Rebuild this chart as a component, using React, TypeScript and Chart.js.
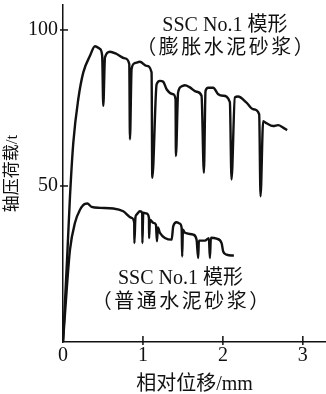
import React, { useEffect, useRef } from "react";
import { Chart, registerables } from "chart.js";

Chart.register(...registerables);

// Upper curve: SSC No.1 (expansive cement mortar)
const expDisp = [
  0, 0.05, 0.0875, 0.129, 0.191, 0.254, 0.3375, 0.4, 0.4625, 0.49, 0.504, 0.525,
  0.5875, 0.671, 0.775, 0.829, 0.8375, 0.858, 0.9, 0.9625, 1.046, 1.108, 1.117,
  1.171, 1.2125, 1.254, 1.296, 1.379, 1.408, 1.4125, 1.44, 1.483, 1.525, 1.5875,
  1.671, 1.733, 1.7625, 1.783, 1.817, 1.879, 1.942, 2.004, 2.0875, 2.108, 2.15,
  2.19, 2.296, 2.379, 2.454, 2.471, 2.504, 2.546, 2.629, 2.692, 2.754, 2.804,
];
const expLoad = [
  0, 26, 46.7, 63.9, 77.8, 86.4, 91.7, 94.8, 93.9, 91.7, 75.7, 91.2,
  93.0, 92.3, 90.9, 89.1, 65.0, 87.5, 89.4, 89.8, 88.5, 86.4, 52.6,
  82.6, 83.7, 83.4, 81.0, 79.4, 77.8, 59.6, 80.0, 81.9, 82.3, 81.6,
  80.2, 78.9, 54.2, 80.5, 81.5, 81.5, 79.4, 78.9, 76.9, 52.1, 78.4,
  78.7, 76.7, 74.6, 73.0, 46.7, 70.8, 70.1, 69.2, 69.5, 68.7, 67.9,
];

// Lower curve: SSC No.1 (ordinary cement mortar)
const ordDisp = [
  0, 0.046, 0.0875, 0.15, 0.2125, 0.275, 0.304, 0.358, 0.4625, 0.629, 0.754,
  0.858, 0.891, 0.893, 0.906, 0.92, 0.9625, 0.991, 0.993, 1.004, 1.046, 1.075,
  1.077, 1.0875, 1.129, 1.1625, 1.175, 1.1875, 1.2125, 1.359, 1.379, 1.421,
  1.4625, 1.484, 1.491, 1.5, 1.525, 1.629, 1.671, 1.691, 1.7, 1.775, 1.825,
  1.8375, 1.85, 1.921, 1.984, 2.004, 2.046, 2.109, 2.1375,
];
const ordLoad = [
  0, 16.7, 29.6, 38.2, 42.4, 44.3, 44.4, 43.3, 43.0, 42.8, 41.9,
  39.8, 38.2, 31.7, 39.9, 40.8, 41.9, 41.4, 31.7, 41.4, 41.2, 39.8,
  33.3, 39.2, 38.2, 37.6, 32.3, 36.7, 35.0, 32.8, 37.1, 38.4,
  37.9, 36.6, 27.4, 36.0, 35.0, 34.4, 32.8, 26.9, 32.5, 32.5, 33.3,
  26.9, 33.4, 33.1, 31.7, 29.0, 28.0, 27.7, 27.7,
];

const xTickValues = [0, 1, 2, 3];
const yTickValues = [50, 100];
const xTitle = "相对位移/mm";
const yTitle = "轴压荷载/t";
const expLabel = ["SSC No.1 模形", "（膨胀水泥砂浆）"];
const ordLabel = ["SSC No.1 模形", "（普通水泥砂浆）"];

const FONT = '"Liberation Serif", "Noto Sans CJK SC", serif';
const INK = "#111";

const toPts = (xs: number[], ys: number[]) => xs.map((x, i) => ({ x, y: ys[i] }));

const decorPlugin = {
  id: "decor",
  afterDraw(chart: any) {
    const { ctx, scales } = chart;
    const xs = scales.x;
    const ys = scales.y;
    ctx.save();
    ctx.strokeStyle = INK;
    ctx.lineWidth = 1.5;
    const x0 = xs.left;
    const yb = ys.bottom;
    xTickValues.forEach((v) => {
      if (v === 0) return;
      const px = xs.getPixelForValue(v);
      ctx.beginPath();
      ctx.moveTo(px, yb - 6);
      ctx.lineTo(px, yb + 3);
      ctx.stroke();
    });
    yTickValues.forEach((v) => {
      const py = ys.getPixelForValue(v);
      ctx.beginPath();
      ctx.moveTo(x0 - 3, py);
      ctx.lineTo(x0 + 5, py);
      ctx.stroke();
    });
    ctx.fillStyle = INK;
    ctx.textAlign = "center";
    ctx.textBaseline = "middle";
    ctx.font = `20px ${FONT}`;
    const draw = (lines: string[], xv: number, y1: number, y2: number) => {
      const px = xs.getPixelForValue(xv);
      (ctx as any).letterSpacing = "0px";
      ctx.fillText(lines[0], px, ys.getPixelForValue(y1));
      (ctx as any).letterSpacing = "2.5px";
      ctx.fillText(lines[1], px + 1.25, ys.getPixelForValue(y2));
      (ctx as any).letterSpacing = "0px";
    };
    draw(expLabel, 2.025, 101.3, 93.9);
    draw(ordLabel, 1.47, 20.3, 12.5);
    ctx.restore();
  },
};

export default function App() {
  const ref = useRef<HTMLCanvasElement | null>(null);
  useEffect(() => {
    document.body.style.margin = "0";
    const canvas = ref.current!;
    const lineStyle = {
      borderColor: INK,
      borderWidth: 2.4,
      pointRadius: 0,
      cubicInterpolationMode: "monotone" as const,
      fill: false,
    };
    const chart = new Chart(canvas, {
      type: "line",
      data: {
        datasets: [
          { data: toPts(expDisp, expLoad), ...lineStyle },
          { data: toPts(ordDisp, ordLoad), ...lineStyle },
        ],
      },
      options: {
        responsive: false,
        animation: false,
        layout: { padding: { top: 5, right: 0, left: 0, bottom: 0 } },
        plugins: {
          legend: { display: false },
          tooltip: { enabled: false },
        },
        scales: {
          x: {
            type: "linear",
            min: 0,
            max: 3.29,
            grid: { display: false, drawTicks: false },
            border: { display: true, color: INK, width: 1.5 },
            afterBuildTicks: (s: any) => {
              s.ticks = xTickValues.map((v) => ({ value: v }));
            },
            afterFit: (s: any) => {
              s.height = 52;
              s.paddingLeft = 0;
              s.paddingRight = 0;
            },
            ticks: {
              color: INK,
              font: { family: FONT, size: 20 },
              padding: 2,
              maxRotation: 0,
              callback: (v: any) => String(v),
            },
            title: {
              display: true,
              text: xTitle,
              color: INK,
              font: { family: FONT, size: 20, lineHeight: 1 },
              padding: { top: 0, bottom: -1 },
            },
          },
          y: {
            type: "linear",
            min: 0,
            max: 108,
            grid: { display: false, drawTicks: false },
            border: { display: true, color: INK, width: 1.5 },
            afterBuildTicks: (s: any) => {
              s.ticks = yTickValues.map((v) => ({ value: v }));
            },
            afterFit: (s: any) => {
              s.width = 63;
              s.paddingTop = 0;
              s.paddingBottom = 0;
            },
            ticks: {
              color: INK,
              font: { family: FONT, size: 20 },
              padding: 5,
              callback: (v: any) => String(v),
            },
            title: {
              display: true,
              text: yTitle,
              color: INK,
              font: { family: FONT, size: 17, lineHeight: 1 },
              padding: { top: 4, bottom: 0 },
            },
          },
        },
      },
      plugins: [decorPlugin],
    });
    return () => chart.destroy();
  }, []);
  return (
    <div style={{ position: "fixed", left: 0, top: 0, width: 326, height: 394 }}>
      <canvas ref={ref} width={326} height={394} style={{ display: "block" }} />
    </div>
  );
}
